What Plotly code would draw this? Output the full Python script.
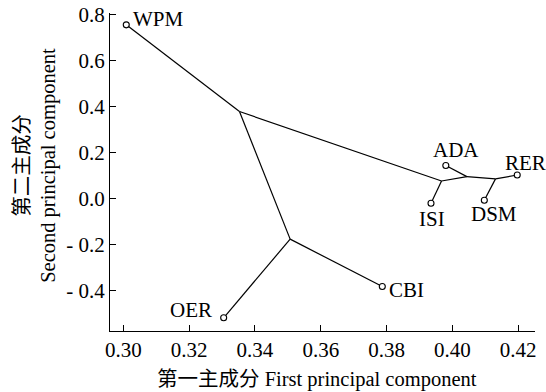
import plotly.graph_objects as go

# Leaf (sample) scores
leaf_names = ["WPM", "ADA", "RER", "ISI", "DSM", "CBI", "OER"]
leaf_x = [0.3009, 0.3980, 0.4197, 0.3935, 0.4097, 0.3787, 0.3305]
leaf_y = [0.754, 0.142, 0.101, -0.022, -0.009, -0.384, -0.520]

# Internal junctions of the tree
junc_names = ["A", "B", "C", "D", "E"]
junc_x = [0.3353, 0.3507, 0.3967, 0.4044, 0.4131]
junc_y = [0.377, -0.178, 0.075, 0.094, 0.084]

edges = [("WPM", "A"), ("A", "B"), ("B", "OER"), ("B", "CBI"), ("A", "C"),
         ("C", "ISI"), ("C", "D"), ("D", "ADA"), ("D", "E"), ("E", "DSM"), ("E", "RER")]

x_ticks = [0.30, 0.32, 0.34, 0.36, 0.38, 0.40, 0.42]
x_ticktext = ["0.30", "0.32", "0.34", "0.36", "0.38", "0.40", "0.42"]
y_ticks = [-0.4, -0.2, 0.0, 0.2, 0.4, 0.6, 0.8]
y_ticktext = ["- 0.4", "- 0.2", "0.0", "0.2", "0.4", "0.6", "0.8"]

x_title_cn, x_title_en = "第一主成分", "First principal component"
y_title_cn, y_title_en = "第二主成分", "Second principal component"

# label pixel offsets (style)
label_shift = {"WPM": (32, 6), "ADA": (10, 16), "RER": (8, 12), "ISI": (1, -16),
               "DSM": (10, -14), "CBI": (24, -3), "OER": (-33, 8)}

pos = {n: (x, y) for n, x, y in zip(leaf_names, leaf_x, leaf_y)}
pos.update({n: (x, y) for n, x, y in zip(junc_names, junc_x, junc_y)})

ex, ey = [], []
for a, b in edges:
    ex += [pos[a][0], pos[b][0], None]
    ey += [pos[a][1], pos[b][1], None]

SERIF = "Liberation Serif"
CJK = "Noto Sans CJK SC"

fig = go.Figure()
fig.add_trace(go.Scatter(x=ex, y=ey, mode="lines",
                         line=dict(color="black", width=1.2), hoverinfo="skip"))
fig.add_trace(go.Scatter(x=leaf_x, y=leaf_y, mode="markers", hoverinfo="skip",
                         marker=dict(symbol="circle", size=6, color="white",
                                     line=dict(color="black", width=1.1))))

for n, x, y in zip(leaf_names, leaf_x, leaf_y):
    dx, dy = label_shift[n]
    fig.add_annotation(x=x, y=y, text=n, showarrow=False, xshift=dx, yshift=dy,
                       xanchor="center", yanchor="middle",
                       font=dict(family=SERIF, size=21, color="black"))

fig.add_annotation(xref="paper", yref="paper", x=0.488, y=-0.146, yanchor="middle",
                   text=f'<span style="font-family:{CJK}">{x_title_cn}</span>'
                        f'<span style="font-family:{SERIF}"> {x_title_en}</span>',
                   showarrow=False, font=dict(family=SERIF, size=20.5, color="black"))
fig.add_annotation(xref="paper", yref="paper", x=-0.183, y=0.52, xanchor="center",
                   yanchor="middle",
                   text=f'<span style="font-family:{CJK}">{y_title_cn}</span><br>'
                        f'<span style="font-family:{SERIF}">{y_title_en}</span>',
                   showarrow=False, textangle=-90,
                   font=dict(family=SERIF, size=20.5, color="black"))

axis_style = dict(showgrid=False, zeroline=False, showline=True, linecolor="black",
                  linewidth=1.2, ticks="inside", ticklen=6, tickcolor="black",
                  tickwidth=1.2, automargin=False,
                  tickfont=dict(family=SERIF, size=21, color="black"))

fig.update_layout(
    template="none",
    width=546, height=392, showlegend=False,
    paper_bgcolor="white", plot_bgcolor="white",
    margin=dict(l=110, r=11, t=13, b=60.5),
    font=dict(family=SERIF, size=21, color="black"),
    xaxis=dict(range=[0.29596, 0.4251], tickvals=x_ticks, ticktext=x_ticktext, **axis_style),
    yaxis=dict(range=[-0.5775, 0.8055], tickvals=y_ticks, ticktext=y_ticktext, **axis_style),
)

fig.write_html("out.html", config={"displayModeBar": False},
               post_script="document.body.style.margin='0';document.body.style.overflow='hidden';")
